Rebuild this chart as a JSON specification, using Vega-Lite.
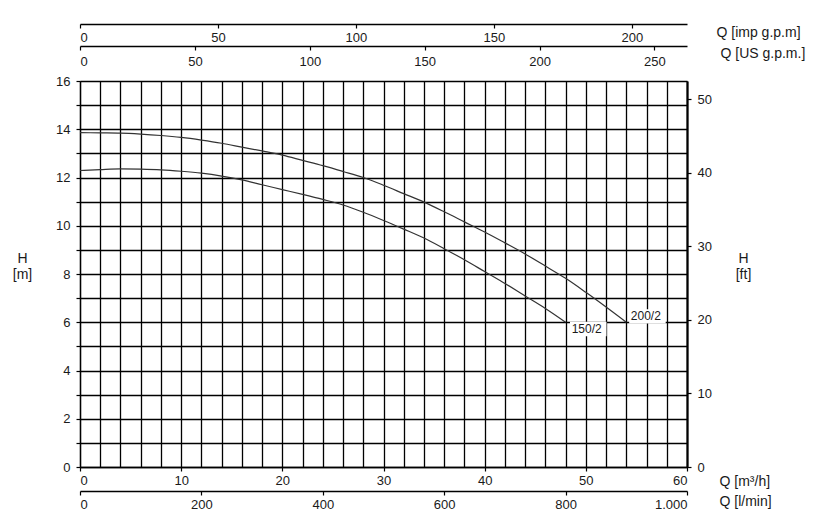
{
  "$schema": "https://vega.github.io/schema/vega-lite/v6.json",
  "width": 607,
  "height": 386,
  "autosize": {"type": "none"},
  "padding": {"left": 80, "top": 81, "right": 128, "bottom": 54},
  "config": {
    "view": {"stroke": null},
    "font": "Liberation Sans",
    "axis": {
      "labelFont": "Liberation Sans",
      "labelFontSize": 13,
      "labelColor": "#1a1a1a",
      "titleFont": "Liberation Sans",
      "titleFontSize": 14,
      "titleFontWeight": "normal",
      "titleColor": "#1a1a1a",
      "domainColor": "black",
      "domainWidth": 1.3,
      "tickColor": "black",
      "tickWidth": 1.2,
      "tickSize": 4,
      "labelPadding": 3,
      "grid": false,
      "gridColor": "black",
      "gridOpacity": 1,
      "gridWidth": 1.3
    }
  },
  "datasets": {
    "curves": [
      {"pump": "200/2", "Q": 0, "H": 13.86},
      {"pump": "200/2", "Q": 2, "H": 13.85},
      {"pump": "200/2", "Q": 4, "H": 13.84},
      {"pump": "200/2", "Q": 6, "H": 13.8},
      {"pump": "200/2", "Q": 8, "H": 13.74},
      {"pump": "200/2", "Q": 10, "H": 13.66},
      {"pump": "200/2", "Q": 12, "H": 13.55},
      {"pump": "200/2", "Q": 14, "H": 13.42},
      {"pump": "200/2", "Q": 16, "H": 13.26},
      {"pump": "200/2", "Q": 18, "H": 13.1},
      {"pump": "200/2", "Q": 20, "H": 12.93},
      {"pump": "200/2", "Q": 22, "H": 12.71},
      {"pump": "200/2", "Q": 24, "H": 12.49},
      {"pump": "200/2", "Q": 26, "H": 12.25},
      {"pump": "200/2", "Q": 28, "H": 12.0},
      {"pump": "200/2", "Q": 30, "H": 11.68},
      {"pump": "200/2", "Q": 32, "H": 11.33},
      {"pump": "200/2", "Q": 34, "H": 10.98},
      {"pump": "200/2", "Q": 36, "H": 10.58},
      {"pump": "200/2", "Q": 38, "H": 10.16},
      {"pump": "200/2", "Q": 40, "H": 9.74},
      {"pump": "200/2", "Q": 42, "H": 9.29},
      {"pump": "200/2", "Q": 44, "H": 8.83},
      {"pump": "200/2", "Q": 46, "H": 8.33},
      {"pump": "200/2", "Q": 48, "H": 7.82},
      {"pump": "200/2", "Q": 50, "H": 7.24},
      {"pump": "200/2", "Q": 52, "H": 6.63},
      {"pump": "200/2", "Q": 54, "H": 6.0},
      {"pump": "150/2", "Q": 0, "H": 12.29},
      {"pump": "150/2", "Q": 2, "H": 12.33},
      {"pump": "150/2", "Q": 4, "H": 12.36},
      {"pump": "150/2", "Q": 6, "H": 12.35},
      {"pump": "150/2", "Q": 8, "H": 12.32},
      {"pump": "150/2", "Q": 10, "H": 12.26},
      {"pump": "150/2", "Q": 12, "H": 12.18},
      {"pump": "150/2", "Q": 14, "H": 12.06},
      {"pump": "150/2", "Q": 16, "H": 11.9},
      {"pump": "150/2", "Q": 18, "H": 11.7},
      {"pump": "150/2", "Q": 20, "H": 11.5},
      {"pump": "150/2", "Q": 22, "H": 11.3},
      {"pump": "150/2", "Q": 24, "H": 11.09},
      {"pump": "150/2", "Q": 26, "H": 10.86},
      {"pump": "150/2", "Q": 28, "H": 10.56},
      {"pump": "150/2", "Q": 30, "H": 10.22},
      {"pump": "150/2", "Q": 32, "H": 9.86},
      {"pump": "150/2", "Q": 34, "H": 9.49},
      {"pump": "150/2", "Q": 36, "H": 9.05},
      {"pump": "150/2", "Q": 38, "H": 8.59},
      {"pump": "150/2", "Q": 40, "H": 8.1},
      {"pump": "150/2", "Q": 42, "H": 7.61},
      {"pump": "150/2", "Q": 44, "H": 7.09},
      {"pump": "150/2", "Q": 46, "H": 6.57},
      {"pump": "150/2", "Q": 48, "H": 6.0}
    ],
    "labels": [
      {"pump": "150/2", "Q": 48.6, "H": 5.72},
      {"pump": "200/2", "Q": 54.45, "H": 6.24}
    ],
    "imp": [{"gpm": 0}, {"gpm": 219.97}],
    "us": [{"gpm": 0}, {"gpm": 264.17}],
    "lmin": [{"lmin": 0}, {"lmin": 1000}],
    "ft": [{"ft": 0}, {"ft": 52.49}]
  },
  "layer": [
    {
      "data": {"name": "curves"},
      "mark": {"type": "line", "color": "#333333", "strokeWidth": 1.2, "interpolate": "monotone"},
      "encoding": {
        "x": {
          "field": "Q",
          "type": "quantitative",
          "scale": {"domain": [0, 60], "nice": false, "zero": false},
          "axis": {
            "orient": "bottom",
            "values": [0, 2, 4, 6, 8, 10, 12, 14, 16, 18, 20, 22, 24, 26, 28, 30, 32, 34, 36, 38, 40, 42, 44, 46, 48, 50, 52, 54, 56, 58, 60],
            "grid": true,
            "labelExpr": "datum.value % 10 == 0 ? datum.label : ''",
            "tickOpacity": {"condition": {"test": "datum.value % 10 == 0", "value": 1}, "value": 0},
            "title": "Q [m³/h]",
            "titleX": 639,
            "titleY": 14,
            "titleAlign": "left",
            "titleBaseline": "middle",
            "titleAnchor": null
          }
        },
        "y": {
          "field": "H",
          "type": "quantitative",
          "scale": {"domain": [0, 16], "nice": false},
          "axis": {
            "orient": "left",
            "values": [0, 1, 2, 3, 4, 5, 6, 7, 8, 9, 10, 11, 12, 13, 14, 15, 16],
            "grid": true,
            "labelExpr": "datum.value % 2 == 0 ? datum.label : ''",
            "labelPadding": 6,
            "title": ["H", "[m]"],
            "titleAngle": 0,
            "titleX": -58,
            "titleY": 177,
            "titleAlign": "center",
            "titleBaseline": "middle",
            "titleLineHeight": 16
          }
        },
        "detail": {"field": "pump", "type": "nominal"}
      }
    },
    {
      "data": {"name": "labels"},
      "mark": {"type": "point", "shape": "M-0.1,-0.42L2.05,-0.42L2.05,0.42L-0.1,0.42Z", "size": 1156, "filled": true, "color": "white", "opacity": 1, "strokeWidth": 0},
      "encoding": {
        "x": {"field": "Q", "type": "quantitative", "scale": {"domain": [0, 60], "nice": false, "zero": false}, "axis": null},
        "y": {"field": "H", "type": "quantitative", "scale": {"domain": [0, 16], "nice": false}, "axis": null}
      }
    },
    {
      "data": {"name": "labels"},
      "mark": {"type": "text", "align": "left", "baseline": "middle", "fontSize": 12, "font": "Liberation Sans", "color": "#1a1a1a"},
      "encoding": {
        "x": {"field": "Q", "type": "quantitative", "scale": {"domain": [0, 60], "nice": false, "zero": false}, "axis": null},
        "y": {"field": "H", "type": "quantitative", "scale": {"domain": [0, 16], "nice": false}, "axis": null},
        "text": {"field": "pump"}
      }
    },
    {
      "data": {"name": "imp"},
      "mark": {"type": "point", "opacity": 0},
      "encoding": {
        "x": {
          "field": "gpm",
          "type": "quantitative",
          "scale": {"domain": [0, 219.97], "nice": false, "zero": false},
          "axis": {
            "orient": "bottom",
            "offset": -443,
            "values": [0, 50, 100, 150, 200],
            "title": "Q [imp g.p.m]",
            "titleX": 636,
            "titleY": 8,
            "titleAlign": "left",
            "titleBaseline": "middle",
            "titleAnchor": null
          }
        }
      }
    },
    {
      "data": {"name": "us"},
      "mark": {"type": "point", "opacity": 0},
      "encoding": {
        "x": {
          "field": "gpm",
          "type": "quantitative",
          "scale": {"domain": [0, 264.17], "nice": false, "zero": false},
          "axis": {
            "orient": "bottom",
            "offset": -421,
            "values": [0, 50, 100, 150, 200, 250],
            "labelPadding": 5,
            "title": "Q [US g.p.m.]",
            "titleX": 640,
            "titleY": 7,
            "titleAlign": "left",
            "titleBaseline": "middle",
            "titleAnchor": null
          }
        }
      }
    },
    {
      "data": {"name": "lmin"},
      "mark": {"type": "point", "opacity": 0},
      "encoding": {
        "x": {
          "field": "lmin",
          "type": "quantitative",
          "scale": {"domain": [0, 1000], "nice": false, "zero": false},
          "axis": {
            "orient": "bottom",
            "offset": 24,
            "values": [0, 200, 400, 600, 800, 1000],
            "labelExpr": "datum.value == 1000 ? '1.000' : datum.label",
            "title": "Q [l/min]",
            "titleX": 639,
            "titleY": 10,
            "titleAlign": "left",
            "titleBaseline": "middle",
            "titleAnchor": null
          }
        }
      }
    },
    {
      "data": {"name": "ft"},
      "mark": {"type": "point", "opacity": 0},
      "encoding": {
        "y": {
          "field": "ft",
          "type": "quantitative",
          "scale": {"domain": [0, 52.49], "nice": false},
          "axis": {
            "orient": "right",
            "values": [0, 10, 20, 30, 40, 50],
            "domainWidth": 2.2,
            "labelPadding": 6,
            "title": ["H", "[ft]"],
            "titleAngle": 0,
            "titleX": 56,
            "titleY": 177,
            "titleAlign": "center",
            "titleBaseline": "middle",
            "titleLineHeight": 16
          }
        }
      }
    }
  ],
  "resolve": {"scale": {"x": "independent", "y": "independent"}}
}
